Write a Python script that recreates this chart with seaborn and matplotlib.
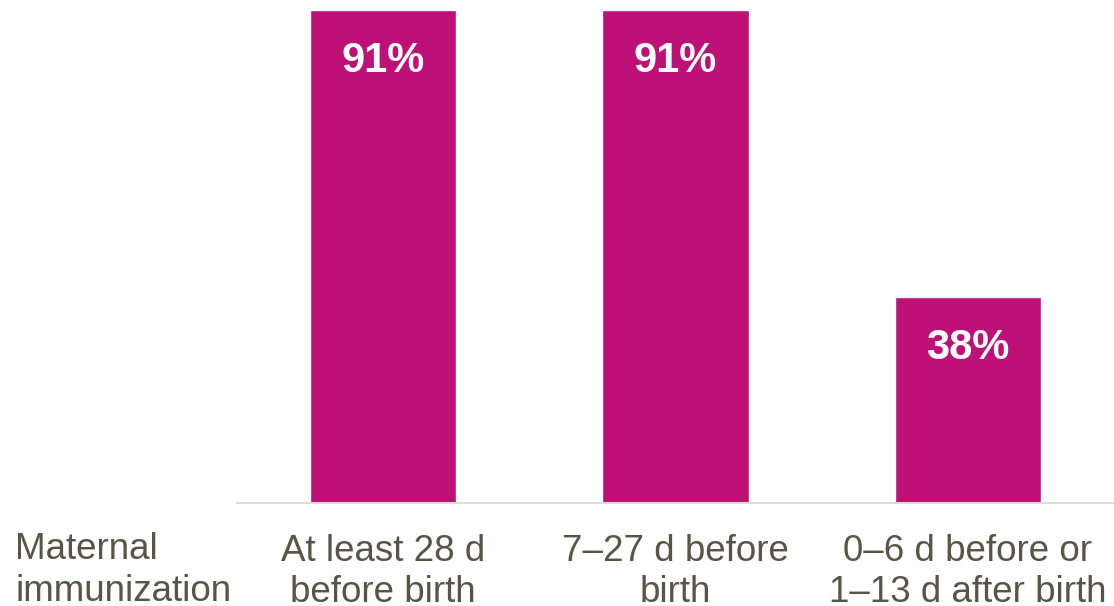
import matplotlib.pyplot as plt
import seaborn as sns
import pandas as pd

# data
timing = ["At least 28 d\nbefore birth", "7\u201327 d before\nbirth", "0\u20136 d before or\n1\u201313 d after birth"]
effect = [91, 91, 38]
pct_labels = ["91%", "91%", "38%"]

df = pd.DataFrame({"timing": timing, "effect": effect})

sns.set_theme(style="white")
plt.rcParams["font.family"] = ["Liberation Sans", "DejaVu Sans"]

fig = plt.figure(figsize=(11.14, 6.06), dpi=100)
ax = fig.add_axes([237 / 1114, 103 / 606, 877 / 1114, 503 / 606])

sns.barplot(data=df, x="timing", y="effect", color="#BE1177", saturation=1,
            width=0.5, ax=ax)

ax.set_xlim(-0.5, 2.5)
ax.set_ylim(0, 92.8)
ax.set_xlabel("")
ax.set_ylabel("")
ax.set_yticks([])
for s in ["top", "right", "left"]:
    ax.spines[s].set_visible(False)
ax.spines["bottom"].set_color("#DDDDD6")
ax.spines["bottom"].set_linewidth(1.5)
ax.tick_params(axis="x", length=0, pad=22, labelsize=26.5, labelcolor="#595445")
for t in ax.get_xticklabels():
    t.set_linespacing(1.25)

# value labels inside bars
for i, (v, lab) in enumerate(zip(effect, pct_labels)):
    ax.annotate(lab, xy=(i, v), xytext=(0, -37), textcoords="offset points",
                ha="center", va="center", color="white", fontsize=30,
                fontweight="bold")

fig.text(15 / 1114, 1 - 532 / 606, "Maternal\nimmunization", ha="left", va="top",
         fontsize=26.5, color="#595445", linespacing=1.25)

fig.savefig("out.png", dpi=100)
